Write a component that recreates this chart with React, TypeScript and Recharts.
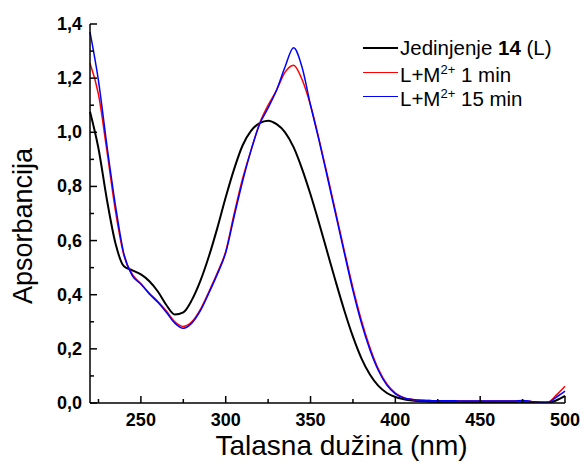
import React from "react";
import { LineChart, Line, XAxis, YAxis, Legend, Label } from "recharts";

// wavelength (nm)
const wavelengths = [
  220, 225, 230, 235, 240, 245, 250, 255, 260, 265, 270, 275, 280, 285, 290, 295,
  300, 305, 310, 315, 320, 325, 330, 335, 340, 345, 350, 355, 360, 365, 370, 375,
  380, 385, 390, 395, 400, 405, 410, 415, 420, 425, 430, 435, 440, 445, 450, 455,
  460, 465, 470, 475, 480, 485, 490, 495, 500,
];

// Jedinjenje 14 (L)
const compound = [
  1.076, 0.94, 0.75, 0.59, 0.505, 0.49, 0.475, 0.45, 0.412, 0.362, 0.327, 0.335, 0.38, 0.45, 0.54, 0.645,
  0.76, 0.865, 0.952, 1.006, 1.034, 1.043, 1.03, 1.0, 0.945, 0.865, 0.77, 0.665, 0.555, 0.445, 0.34, 0.245,
  0.165, 0.105, 0.063, 0.037, 0.022, 0.014, 0.009, 0.006, 0.005, 0.004, 0.004, 0.004, 0.004, 0.004, 0.004, 0.004,
  0.004, 0.004, 0.004, 0.005, 0.004, 0.002, 0.001, 0.01, 0.026,
];

// L+M2+ 1 min
const oneMin = [
  1.255, 1.14, 0.93, 0.71, 0.545, 0.475, 0.44, 0.405, 0.375, 0.34, 0.3, 0.283, 0.3, 0.345, 0.41, 0.48,
  0.56, 0.7, 0.83, 0.935, 1.033, 1.1, 1.156, 1.222, 1.248, 1.195, 1.1, 0.975, 0.84, 0.7, 0.56, 0.425,
  0.305, 0.205, 0.125, 0.07, 0.037, 0.02, 0.013, 0.01, 0.009, 0.008, 0.008, 0.008, 0.007, 0.007, 0.007, 0.007,
  0.007, 0.007, 0.007, 0.008, 0.006, 0.003, 0.004, 0.03, 0.062,
];

// L+M2+ 15 min
const fifteenMin = [
  1.37, 1.19, 0.95, 0.73, 0.55, 0.47, 0.44, 0.403, 0.372, 0.335, 0.295, 0.276, 0.295, 0.34, 0.405, 0.475,
  0.555, 0.69, 0.82, 0.935, 1.03, 1.09, 1.156, 1.242, 1.312, 1.24, 1.1, 0.97, 0.832, 0.692, 0.552, 0.415,
  0.295, 0.197, 0.12, 0.066, 0.034, 0.019, 0.013, 0.01, 0.009, 0.008, 0.008, 0.008, 0.007, 0.007, 0.007, 0.007,
  0.007, 0.007, 0.007, 0.009, 0.006, 0.003, 0.003, 0.022, 0.044,
];

const xTicks = [225, 250, 275, 300, 325, 350, 375, 400, 425, 450, 475, 500];
const yTicks = [0, 0.1, 0.2, 0.3, 0.4, 0.5, 0.6, 0.7, 0.8, 0.9, 1.0, 1.1, 1.2, 1.3, 1.4];

const data = wavelengths.map((w, i) => ({
  w,
  compound: compound[i],
  oneMin: oneMin[i],
  fifteenMin: fifteenMin[i],
}));

const font = "'Liberation Sans', Arial, sans-serif";

const XTick = (props: any) => {
  const { x, y, payload } = props;
  const major = payload.value % 50 === 0;
  return (
    <g>
      <line x1={x} x2={x} y1={y} y2={y - (major ? 7 : 4)} stroke="#000" strokeWidth={1.5} />
      {major && (
        <text x={x} y={y + 23} textAnchor="middle" fontFamily={font} fontWeight="bold" fontSize={18} fill="#000">
          {payload.value}
        </text>
      )}
    </g>
  );
};

const YTick = (props: any) => {
  const { x, y, payload } = props;
  const major = Math.round(payload.value * 10) % 2 === 0;
  return (
    <g>
      <line x1={x} x2={x + (major ? 7 : 4)} y1={y} y2={y} stroke="#000" strokeWidth={1.5} />
      {major && (
        <text x={x - 8} y={y + 6} textAnchor="end" fontFamily={font} fontWeight="bold" fontSize={18} fill="#000">
          {payload.value.toFixed(1).replace(".", ",")}
        </text>
      )}
    </g>
  );
};

const legendItems = [
  { color: "#000000", label: <>Jedinjenje <b>14</b> (L)</> },
  { color: "#ff0000", label: <>L+M<sup style={{ fontSize: 13 }}>2+</sup> 1 min</> },
  { color: "#0000ff", label: <>L+M<sup style={{ fontSize: 13 }}>2+</sup> 15 min</> },
];

const renderLegend = () => (
  <div style={{ fontFamily: font, fontSize: 20.5, lineHeight: "24px", color: "#000" }}>
    {legendItems.map((it) => (
      <div key={it.color} style={{ display: "flex", alignItems: "center", height: 24 }}>
        <span style={{ display: "inline-block", width: 35, height: 0, borderTop: `${it.color === "#000000" ? 2 : 1.5}px solid ${it.color}`, marginRight: 2 }} />
        <span style={{ whiteSpace: "nowrap" }}>{it.label}</span>
      </div>
    ))}
  </div>
);

export default function App() {
  return (
    <div style={{ position: "absolute", left: 0, top: 0, background: "#fff" }}>
      <LineChart width={581} height={463} data={data} margin={{ top: 24, right: 16, bottom: 0, left: 0 }}>
        <XAxis
          dataKey="w"
          type="number"
          domain={[220, 500]}
          ticks={xTicks}
          interval={0}
          tickSize={0}
          tickMargin={0}
          tick={<XTick />}
          height={60}
          axisLine={{ stroke: "#000", strokeWidth: 1.5 }}
        >
          <Label
            value="Talasna dužina (nm)"
            position="insideBottom"
            offset={8}
            dx={14}
            style={{ fontFamily: font, fontSize: 28, fill: "#000" }}
          />
        </XAxis>
        <XAxis xAxisId="top" dataKey="w" type="number" domain={[220, 500]} orientation="top" height={0} tick={false} tickLine={false} axisLine={{ stroke: "#000", strokeWidth: 1.5 }} />
        <YAxis
          domain={[0, 1.4]}
          ticks={yTicks}
          interval={0}
          tickSize={0}
          tickMargin={0}
          tick={<YTick />}
          width={90}
          allowDataOverflow
          axisLine={{ stroke: "#000", strokeWidth: 1.5 }}
        >
          <Label
            content={() => (
              <text transform="translate(32, 226) rotate(-90)" textAnchor="middle" fontFamily={font} fontSize={27} fill="#000">
                Apsorbancija
              </text>
            )}
          />
        </YAxis>
        <YAxis yAxisId="right" orientation="right" domain={[0, 1.4]} width={0} tick={false} tickLine={false} axisLine={{ stroke: "#000", strokeWidth: 1.5 }} />
        <Legend
          layout="vertical"
          align="center"
          verticalAlign="middle"
          content={renderLegend}
          wrapperStyle={{ position: "absolute", top: 36, left: 363, width: "auto" }}
        />
        <Line type="monotone" dataKey="compound" stroke="#000000" strokeWidth={2} dot={false} isAnimationActive={false} />
        <Line type="monotone" dataKey="oneMin" stroke="#ff0000" strokeWidth={1.5} dot={false} isAnimationActive={false} />
        <Line type="monotone" dataKey="fifteenMin" stroke="#0000ff" strokeWidth={1.5} dot={false} isAnimationActive={false} />
      </LineChart>
    </div>
  );
}
